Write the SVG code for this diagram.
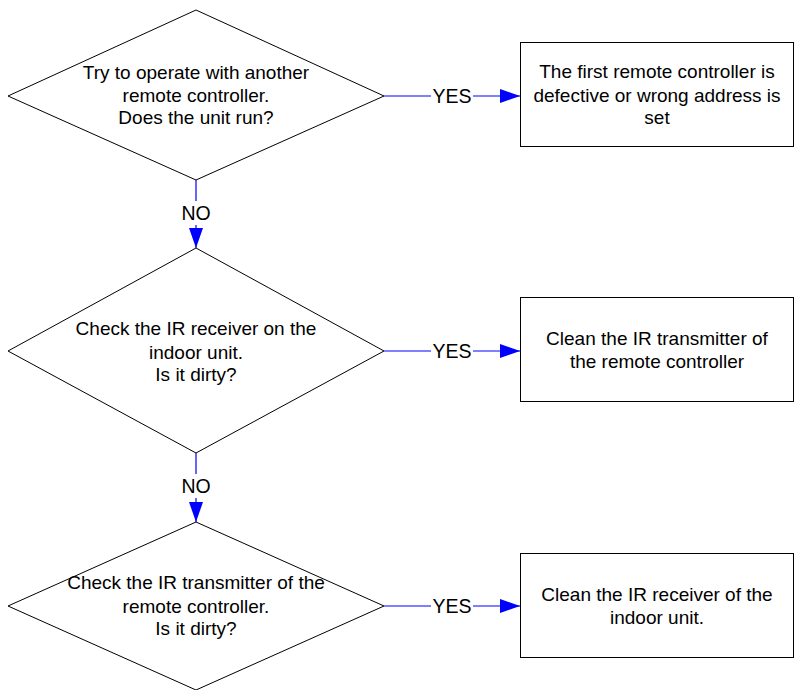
<svg xmlns="http://www.w3.org/2000/svg" width="795" height="690" viewBox="0 0 795 690">
<defs>
<marker id="arr" markerUnits="userSpaceOnUse" markerWidth="20" markerHeight="16" refX="20" refY="8" orient="auto">
<path d="M0,1 L20,8 L0,15 Z" fill="#0000FF"/>
</marker>
<style>
.shape{fill:#FFFFFF;stroke:#000000;stroke-width:1}
.box{fill:#FFFFFF;stroke:#000000;stroke-width:1}
.t{font-family:"Liberation Sans",Arial,sans-serif;font-size:19px;fill:#000000;text-anchor:middle}
.c{stroke:#0000FF;stroke-width:1.2;fill:none}
.lbl{font-family:"Liberation Sans",Arial,sans-serif;font-size:19.5px;fill:#000000;text-anchor:middle}
</style>
</defs>
<rect width="795" height="690" fill="#FFFFFF"/>
<g id="connectors">
<path class="c" d="M384,96 H431"/>
<path class="c" d="M473,96 H520" marker-end="url(#arr)"/>
<path class="c" d="M384,351 H431"/>
<path class="c" d="M473,351 H520" marker-end="url(#arr)"/>
<path class="c" d="M384,606 H431"/>
<path class="c" d="M473,606 H520" marker-end="url(#arr)"/>
<path class="c" d="M196,180 V201"/>
<path class="c" d="M196,225 V248" marker-end="url(#arr)"/>
<path class="c" d="M196,453 V474"/>
<path class="c" d="M196,498 V522" marker-end="url(#arr)"/>
<text class="lbl" x="452" y="103">YES</text>
<text class="lbl" x="452" y="358">YES</text>
<text class="lbl" x="452" y="613">YES</text>
<text class="lbl" x="196" y="220">NO</text>
<text class="lbl" x="196" y="493">NO</text>
</g>
<g id="decision1">
<polygon class="shape" points="196,10 384,96 196,180 8,96"/>
<text class="t" x="196" y="79">Try to operate with another</text>
<text class="t" x="196" y="102">remote controller.</text>
<text class="t" x="196" y="124">Does the unit run?</text>
</g>
<g id="decision2">
<polygon class="shape" points="196,248 384,351 196,453 8,351"/>
<text class="t" x="196" y="335">Check the IR receiver on the</text>
<text class="t" x="196" y="359">indoor unit.</text>
<text class="t" x="196" y="381">Is it dirty?</text>
</g>
<g id="decision3">
<polygon class="shape" points="196,522 384,606 196,690 8,606"/>
<text class="t" x="196" y="589">Check the IR transmitter of the</text>
<text class="t" x="196" y="613">remote controller.</text>
<text class="t" x="196" y="635">Is it dirty?</text>
</g>
<g id="box1">
<rect class="box" x="520.5" y="42.5" width="273" height="104"/>
<text class="t" x="657" y="78">The first remote controller is</text>
<text class="t" x="657" y="102">defective or wrong address is</text>
<text class="t" x="657" y="124">set</text>
</g>
<g id="box2">
<rect class="box" x="520.5" y="297.5" width="273" height="104"/>
<text class="t" x="657" y="345">Clean the IR transmitter of</text>
<text class="t" x="657" y="368">the remote controller</text>
</g>
<g id="box3">
<rect class="box" x="520.5" y="553.5" width="273" height="104"/>
<text class="t" x="657" y="601">Clean the IR receiver of the</text>
<text class="t" x="657" y="624">indoor unit.</text>
</g>
</svg>
